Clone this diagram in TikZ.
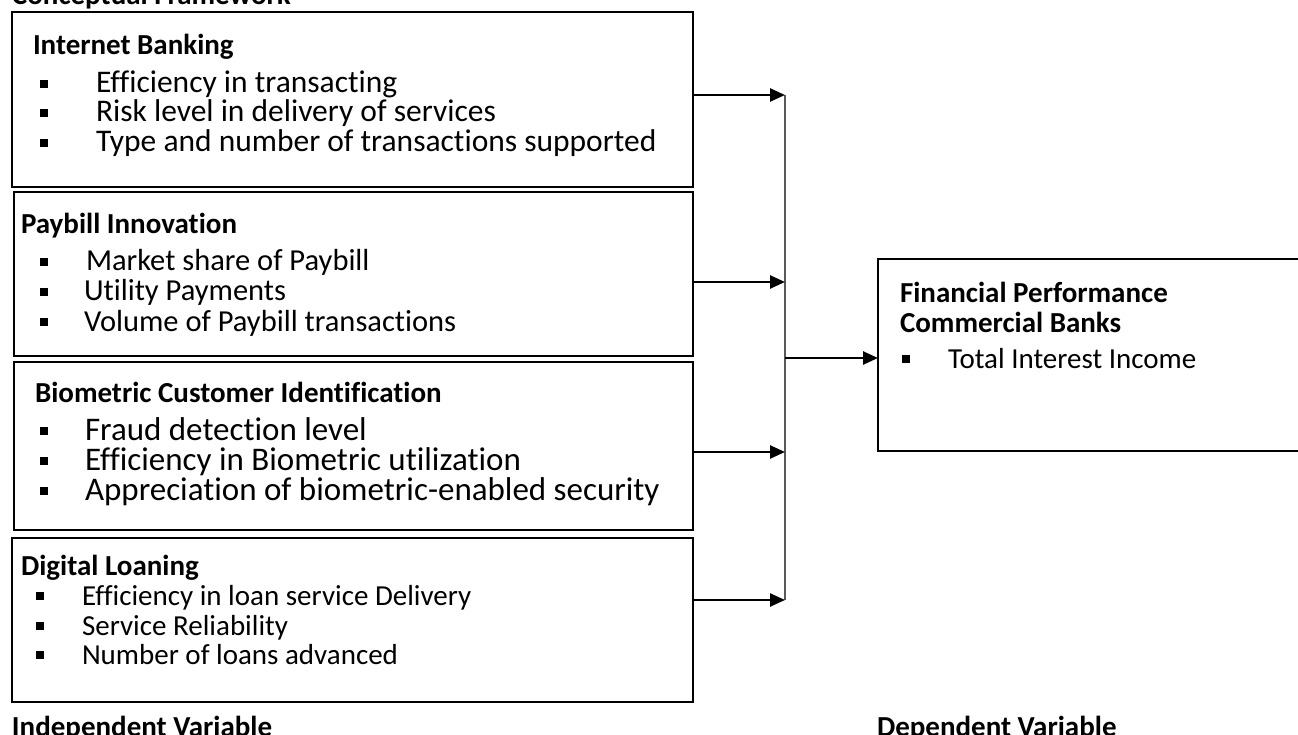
\documentclass[tikz,border=0pt]{standalone}
\usepackage{fontspec}
\setmainfont{Carlito}[Ligatures={NoCommon}]
\usetikzlibrary{arrows.meta}
\newcommand{\sqb}{\rule[5pt]{8pt}{8pt}}
\newcommand{\bitem}[2]{\makebox[#1][l]{\sqb}#2}
\begin{document}
\begin{tikzpicture}[x=1pt,y=-1pt,
  box/.style={draw=black,line width=2pt,inner sep=0pt,outer sep=0pt,anchor=north west},
  txt/.style={anchor=base west,inner sep=0pt,outer sep=0pt,font=\fontsize{29}{34}\selectfont},
  txtA/.style={txt,font=\fontsize{31.5}{36}\selectfont},
  txtB/.style={txt,font=\fontsize{30.5}{36}\selectfont},
  txtC/.style={txt,font=\fontsize{33}{38}\selectfont},
  hd/.style={anchor=base west,inner sep=0pt,outer sep=0pt,font=\fontsize{29}{34}\selectfont\bfseries},
  arr/.style={line width=2.5pt,-{Triangle[length=15pt,width=13pt]}},
  collector/.style={line width=2pt,draw=black!65}]
\useasboundingbox (0,0) rectangle (1298,735);
\clip (0,0) rectangle (1298,735);

% title (cut off at top)
\node[hd] (title) at (12,5) {Conceptual Framework};

% independent variable boxes
\node[box,minimum width=681pt,minimum height=175pt] (b1) at (12,12) {};
\node[box,minimum width=679pt,minimum height=164pt] (b2) at (14,192) {};
\node[box,minimum width=679pt,minimum height=168pt] (b3) at (14,362) {};
\node[box,minimum width=681pt,minimum height=164pt] (b4) at (12,538) {};

% dependent variable box
\node[box,minimum width=432pt,minimum height=192pt] (dv) at (878,259) {};

% box 1 text
\node[hd]   (b1h) at (33,55)  {Internet Banking};
\node[txtA] (b1a) at (40,93)  {\bitem{56pt}{Efficiency in transacting}};
\node[txtA] (b1b) at (40,122) {\bitem{56pt}{Risk level in delivery of services}};
\node[txtA] (b1c) at (40,152) {\bitem{56pt}{Type and number of transactions supported}};

% box 2 text
\node[hd]   (b2h) at (21,234) {Paybill Innovation};
\node[txtB] (b2a) at (40,271) {\bitem{46pt}{Market share of Paybill}};
\node[txtB] (b2b) at (40,301) {\bitem{44pt}{Utility Payments}};
\node[txtB] (b2c) at (40,331) {\bitem{44pt}{Volume of Paybill transactions}};

% box 3 text
\node[hd]   (b3h) at (35,402) {Biometric Customer Identification};
\node[txtC] (b3a) at (40,440) {\bitem{45pt}{Fraud detection level}};
\node[txtC] (b3b) at (40,470) {\bitem{45pt}{Efficiency in Biometric utilization}};
\node[txtC] (b3c) at (40,500) {\bitem{45pt}{Appreciation of biometric-enabled security}};

% box 4 text
\node[hd]  (b4h) at (21,575) {Digital Loaning};
\node[txt] (b4a) at (36,605) {\bitem{46pt}{Efficiency in loan service Delivery}};
\node[txt] (b4b) at (36,635) {\bitem{46pt}{Service Reliability}};
\node[txt] (b4c) at (36,664) {\bitem{46pt}{Number of loans advanced}};

% dependent box text
\node[hd]  (dvh1) at (900,302) {Financial Performance};
\node[hd]  (dvh2) at (900,332) {Commercial Banks};
\node[txt] (dva)  at (902,368) {\bitem{46pt}{Total Interest Income}};

% captions
\node[hd] (indep) at (12,736) {Independent Variable};
\node[hd] (dep)   at (877,736) {Dependent Variable};

% connectors
\coordinate (j1) at (785,95);
\coordinate (j2) at (785,282);
\coordinate (j3) at (785,452);
\coordinate (j4) at (785,600);
\coordinate (jm) at (785,358);
\draw[collector] (j1) -- (j4);
\draw[arr] (b1.east |- j1) -- (j1);
\draw[arr] (b2.east |- j2) -- (j2);
\draw[arr] (b3.east |- j3) -- (j3);
\draw[arr] (b4.east |- j4) -- (j4);
\draw[arr] (jm) -- (jm -| dv.west);
\end{tikzpicture}
\end{document}
